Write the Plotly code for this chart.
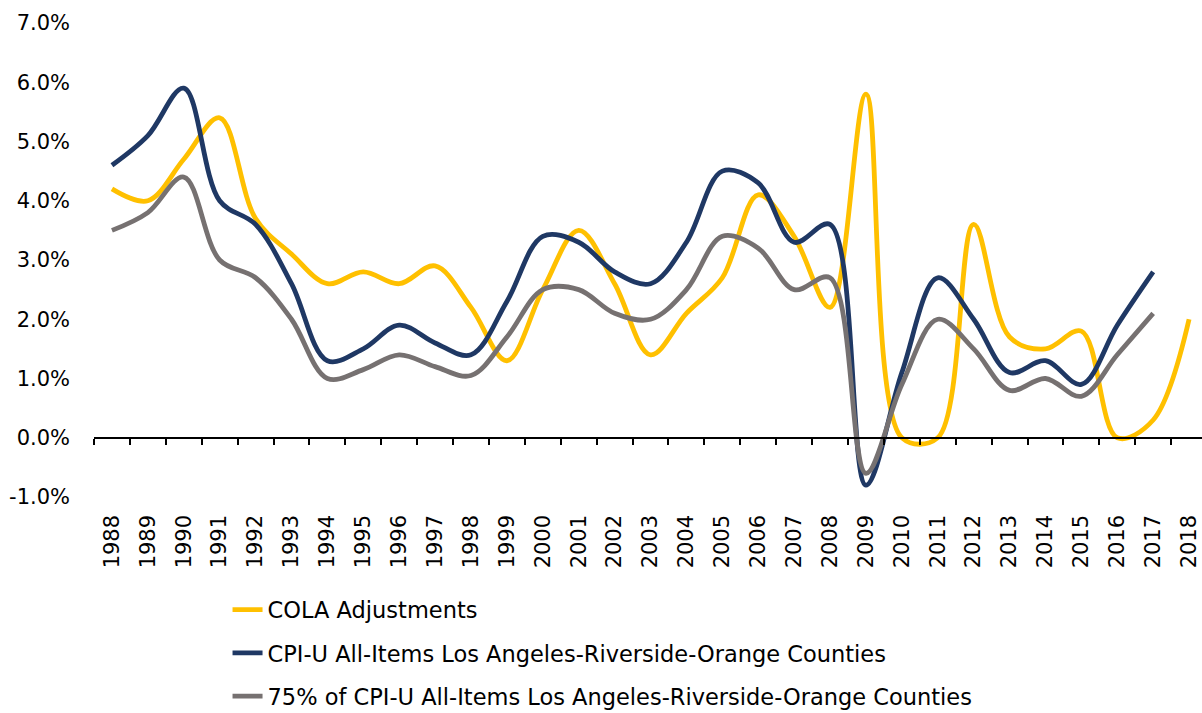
import plotly.graph_objects as go

years = [str(y) for y in range(1988, 2019)]

cola = [4.2, 4.0, 4.7, 5.4, 3.7, 3.1, 2.6, 2.8, 2.6, 2.9, 2.2, 1.3, 2.5, 3.5, 2.6,
        1.4, 2.1, 2.7, 4.1, 3.4, 2.2, 5.8, 0.0, 0.0, 3.6, 1.7, 1.5, 1.8, 0.0, 0.3, 2.0]

cpi = [4.6, 5.1, 5.9, 4.0, 3.6, 2.6, 1.3, 1.5, 1.9, 1.6, 1.4, 2.3, 3.4, 3.3, 2.8,
       2.6, 3.3, 4.5, 4.3, 3.3, 3.6, -0.8, 1.1, 2.7, 2.0, 1.1, 1.3, 0.9, 1.9, 2.8]

cpi75 = [3.5, 3.8, 4.4, 3.0, 2.7, 2.0, 1.0, 1.15, 1.4, 1.2, 1.05, 1.7, 2.5, 2.5, 2.1,
         2.0, 2.5, 3.4, 3.2, 2.5, 2.7, -0.6, 0.9, 2.0, 1.5, 0.8, 1.0, 0.7, 1.4, 2.1]

y_ticks = [-1, 0, 1, 2, 3, 4, 5, 6, 7]
y_tick_text = ["-1.0%", "0.0%", "1.0%", "2.0%", "3.0%", "4.0%", "5.0%", "6.0%", "7.0%"]

names = [
    "COLA Adjustments",
    "CPI-U All-Items Los Angeles-Riverside-Orange Counties",
    "75% of CPI-U All-Items Los Angeles-Riverside-Orange Counties",
]
colors = ["#FFC000", "#1F3864", "#767171"]
series = [cola, cpi, cpi75]

FONT = "DejaVu Sans, sans-serif"

fig = go.Figure()
for i, (name, vals, col) in enumerate(zip(names, series, colors)):
    fig.add_trace(go.Scatter(
        x=years[:len(vals)], y=vals, name=name, mode="lines",
        line=dict(color=col, width=4.8, shape="spline", smoothing=1.0),
        legendgroup=f"g{i}",
    ))

fig.update_layout(
    width=1202, height=713,
    margin=dict(l=94, r=0, t=23, b=216, autoexpand=False),
    paper_bgcolor="white", plot_bgcolor="white",
    font=dict(family=FONT, size=20, color="black"),
    showlegend=True,
    legend=dict(
        xref="container", yref="container",
        x=0.1893, y=0.1745, xanchor="left", yanchor="top",
        orientation="v", tracegroupgap=11,
        font=dict(family=FONT, size=22.5, color="black"),
        itemwidth=30, bgcolor="rgba(0,0,0,0)",
    ),
    xaxis=dict(
        type="category", categoryorder="array", categoryarray=years,
        range=[-0.5, 30.36],
        anchor="free", position=0.125,
        showline=True, linecolor="black", linewidth=1.5,
        ticks="outside", ticklen=6, tickwidth=1.5, tickcolor="black",
        tickson="boundaries", tickangle=-90,
        ticklabelstandoff=68,
        showgrid=False, zeroline=False,
        tickfont=dict(family=FONT, size=21, color="black"),
    ),
    yaxis=dict(
        range=[-1, 7], tickvals=y_ticks, ticktext=y_tick_text,
        showgrid=False, zeroline=False, showline=False, ticks="",
        ticklabelstandoff=23,
        tickfont=dict(family=FONT, size=21, color="black"),
    ),
)

fig.write_html("out.html")
